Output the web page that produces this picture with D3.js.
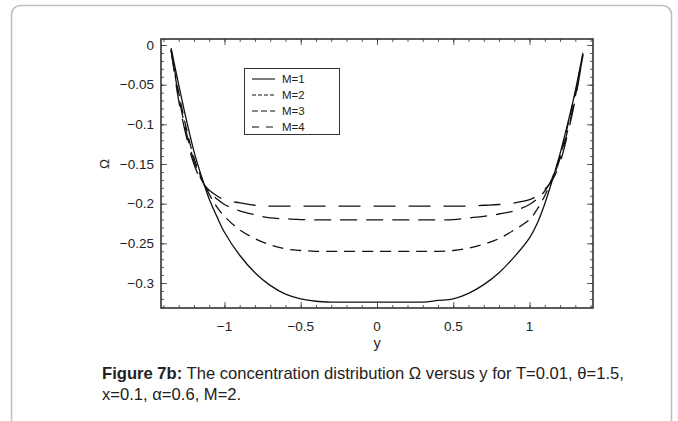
<!DOCTYPE html>
<html>
<head>
<meta charset="utf-8">
<script src="https://cdn.jsdelivr.net/npm/d3@7"></script>
<style>
  body { margin: 0; background: #fff; }
  svg { display: block; font-family: "Liberation Sans", Arial, sans-serif; }
</style>
</head>
<body>
<div id="chart"></div>
<script>
// y positions across the channel
const yVals = [-1.35, -1.3, -1.25, -1.2, -1.15, -1.1, -1.05, -1.0, -0.9, -0.8, -0.7, -0.6, -0.5, -0.4, -0.3, -0.2, 0,
               0.2, 0.3, 0.4, 0.5, 0.6, 0.7, 0.8, 0.9, 1.0, 1.05, 1.1, 1.15, 1.2, 1.25, 1.3, 1.35];

// concentration Omega for each M
const omegaM1 = [-0.004, -0.050, -0.094, -0.134, -0.166, -0.194, -0.216, -0.236, -0.265, -0.287, -0.303, -0.314, -0.320, -0.323, -0.324, -0.324, -0.324,
                 -0.324, -0.324, -0.322, -0.320, -0.313, -0.302, -0.287, -0.267, -0.243, -0.225, -0.200, -0.170, -0.137, -0.099, -0.058, -0.010];
const omegaM2 = [-0.006, -0.060, -0.105, -0.142, -0.168, -0.188, -0.204, -0.216, -0.233, -0.244, -0.252, -0.257, -0.259, -0.260, -0.260, -0.260, -0.260,
                 -0.260, -0.260, -0.260, -0.259, -0.256, -0.251, -0.244, -0.233, -0.220, -0.207, -0.190, -0.167, -0.140, -0.102, -0.060, -0.012];
const omegaM3 = [-0.006, -0.065, -0.110, -0.146, -0.170, -0.185, -0.194, -0.201, -0.209, -0.214, -0.218, -0.219, -0.220, -0.2205, -0.2205, -0.2205, -0.2205,
                 -0.2205, -0.2205, -0.2205, -0.220, -0.218, -0.216, -0.213, -0.209, -0.201, -0.194, -0.184, -0.168, -0.143, -0.108, -0.065, -0.013];
const omegaM4 = [-0.006, -0.070, -0.115, -0.150, -0.172, -0.183, -0.190, -0.195, -0.199, -0.202, -0.203, -0.203, -0.203, -0.203, -0.203, -0.203, -0.203,
                 -0.203, -0.203, -0.203, -0.203, -0.203, -0.202, -0.201, -0.199, -0.195, -0.190, -0.182, -0.170, -0.148, -0.112, -0.068, -0.013];

const seriesNames = ["M=1", "M=2", "M=3", "M=4"];
const seriesValues = [omegaM1, omegaM2, omegaM3, omegaM4];
const xTickValues = [-1, -0.5, 0, 0.5, 1];
const yTickValues = [0, -0.05, -0.1, -0.15, -0.2, -0.25, -0.3];

// line styles
const plotDash = [null, "11,7", "17,9", "22,13"];
const legendDash = [null, "4,2", "6,3", "7,7"];

const W = 678, H = 421;
const svg = d3.select("#chart").append("svg").attr("width", W).attr("height", H);

// rounded frame round the figure
svg.append("rect")
    .attr("x", 11.5).attr("y", 5.5)
    .attr("width", 660).attr("height", 425)
    .attr("rx", 9)
    .attr("fill", "none")
    .attr("stroke", "#bdbdbd")
    .attr("stroke-width", 1.5);

const pLeft = 161, pRight = 593, pTop = 39, pBottom = 308;
const x = d3.scaleLinear().domain([-1.416, 1.416]).range([pLeft, pRight]);
const y = d3.scaleLinear().domain([-0.3315, 0.0076]).range([pBottom, pTop]);

const fmt = d => (d < 0 ? "\u2212" : "") + String(Math.abs(d));

// minor + major ticks, all pointing inwards
const xMinor = d3.range(-14, 15).map(d => d / 10);
const yMinor = d3.range(-33, 1).map(d => d / 100);

function styleAxis(g) {
    g.select(".domain").remove();
    g.selectAll(".tick line").attr("stroke", "#333").attr("stroke-width", 0.8);
}

svg.append("g").attr("transform", `translate(0,${pBottom})`)
    .call(d3.axisBottom(x).tickValues(xMinor).tickSize(-3).tickFormat(""))
    .call(styleAxis);
svg.append("g").attr("transform", `translate(0,${pTop})`)
    .call(d3.axisTop(x).tickValues(xMinor).tickSize(-3).tickFormat(""))
    .call(styleAxis);
svg.append("g").attr("transform", `translate(0,${pBottom})`)
    .call(d3.axisBottom(x).tickValues(xTickValues).tickSize(-6).tickFormat(""))
    .call(styleAxis);
svg.append("g").attr("transform", `translate(0,${pTop})`)
    .call(d3.axisTop(x).tickValues(xTickValues).tickSize(-6).tickFormat(""))
    .call(styleAxis);

svg.append("g").attr("transform", `translate(${pLeft},0)`)
    .call(d3.axisLeft(y).tickValues(yMinor).tickSize(-3).tickFormat(""))
    .call(styleAxis);
svg.append("g").attr("transform", `translate(${pRight},0)`)
    .call(d3.axisRight(y).tickValues(yMinor).tickSize(-3).tickFormat(""))
    .call(styleAxis);
svg.append("g").attr("transform", `translate(${pLeft},0)`)
    .call(d3.axisLeft(y).tickValues(yTickValues).tickSize(-6).tickFormat(""))
    .call(styleAxis);
svg.append("g").attr("transform", `translate(${pRight},0)`)
    .call(d3.axisRight(y).tickValues(yTickValues).tickSize(-6).tickFormat(""))
    .call(styleAxis);

// tick labels
svg.append("g").selectAll("text").data(xTickValues).join("text")
    .attr("x", d => x(d)).attr("y", 331)
    .attr("text-anchor", "middle")
    .attr("font-size", 13.5).attr("fill", "#222")
    .text(fmt);
svg.append("g").selectAll("text").data(yTickValues).join("text")
    .attr("x", 154).attr("y", d => y(d) + 4.5)
    .attr("text-anchor", "end")
    .attr("font-size", 13.5).attr("fill", "#222")
    .text(fmt);

// axis titles
svg.append("text").attr("x", 377).attr("y", 348)
    .attr("text-anchor", "middle").attr("font-size", 14.5).attr("fill", "#222")
    .text("y");
svg.append("text")
    .attr("transform", "translate(109,164) rotate(-90)")
    .attr("text-anchor", "middle").attr("font-size", 13.5).attr("fill", "#222")
    .text("\u03A9");

// curves
const line = d3.line()
    .x((d, i) => x(yVals[i]))
    .y(d => y(d))
    .curve(d3.curveCatmullRom.alpha(0.5));

seriesValues.forEach((vals, k) => {
    svg.append("path")
        .datum(vals)
        .attr("d", line)
        .attr("fill", "none")
        .attr("stroke", "#111")
        .attr("stroke-width", 1.3)
        .attr("stroke-dasharray", plotDash[k]);
});

// plot frame
svg.append("rect")
    .attr("x", pLeft).attr("y", pTop)
    .attr("width", pRight - pLeft).attr("height", pBottom - pTop)
    .attr("fill", "none").attr("stroke", "#333").attr("stroke-width", 1.6);

// legend
const lg = svg.append("g");
lg.append("rect")
    .attr("x", 244.5).attr("y", 68.5).attr("width", 95).attr("height", 66)
    .attr("fill", "#fff").attr("stroke", "#333").attr("stroke-width", 1);
seriesNames.forEach((name, k) => {
    const yy = 79 + k * 16;
    lg.append("line")
        .attr("x1", 252).attr("x2", 275).attr("y1", yy).attr("y2", yy)
        .attr("stroke", "#111").attr("stroke-width", 1.1)
        .attr("stroke-dasharray", legendDash[k]);
    lg.append("text")
        .attr("x", 282).attr("y", yy + 4)
        .attr("font-size", 11.5).attr("fill", "#222")
        .text(name);
});

// caption
const cap = svg.append("text").attr("font-size", 16.6).attr("fill", "#222");
cap.append("tspan").attr("x", 102).attr("y", 379)
    .attr("font-weight", "bold").text("Figure 7b:");
cap.append("tspan")
    .text(" The concentration distribution \u03A9 versus y for T=0.01, \u03B8=1.5,");
cap.append("tspan").attr("x", 102).attr("y", 400)
    .text("x=0.1, \u03B1=0.6, M=2.");
</script>
</body>
</html>
